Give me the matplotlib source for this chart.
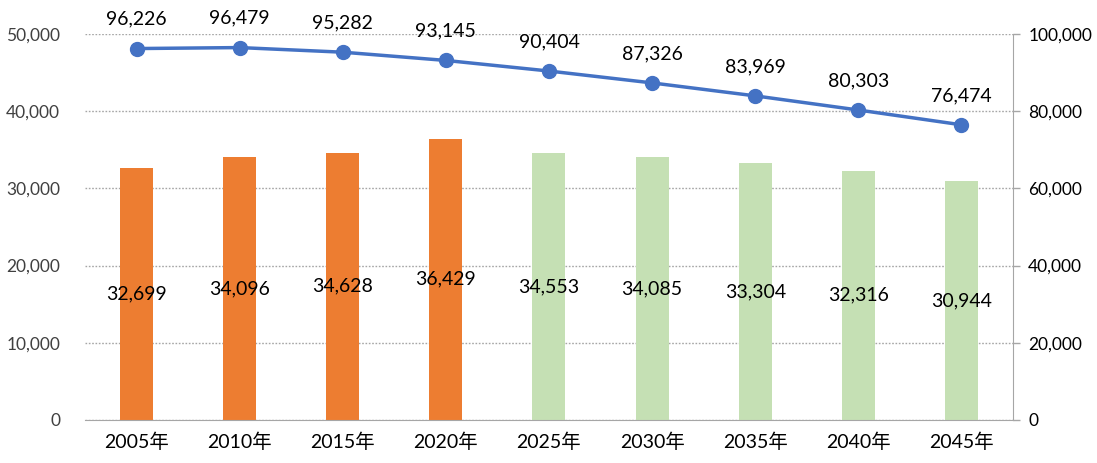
import matplotlib
matplotlib.use('Agg')
import matplotlib.pyplot as plt
import numpy as np
from matplotlib.ticker import FuncFormatter

plt.rcParams['font.family'] = ['Lato', 'Noto Sans CJK JP', 'DejaVu Sans']

# データ
years = ['2005年', '2010年', '2015年', '2020年', '2025年', '2030年', '2035年', '2040年', '2045年']
bar_values = [32699, 34096, 34628, 36429, 34553, 34085, 33304, 32316, 30944]
line_values = [96226, 96479, 95282, 93145, 90404, 87326, 83969, 80303, 76474]
bar_colors = ['#ED7D31'] * 4 + ['#C5E0B4'] * 5

fig = plt.figure(figsize=(10.97, 4.63), dpi=100)
ax = fig.add_axes([0.0775, 0.0929, 0.8459, 0.8337])
ax2 = ax.twinx()

x = np.arange(len(years))
ax.bar(x, bar_values, width=0.32, color=bar_colors, zorder=2)
for i, v in enumerate(bar_values):
    ax.text(i, v / 2, f'{v:,}', ha='center', va='center', fontsize=14, color='#000000', zorder=3)

ax2.plot(x, line_values, color='#4472C4', linewidth=2.5, marker='o', markersize=10, zorder=4)
for i, v in enumerate(line_values):
    ax2.annotate(f'{v:,}', (i, v), xytext=(0, 15), textcoords='offset points',
                 ha='center', va='bottom', fontsize=14, color='#000000')

ax.set_xlim(-0.5, len(years) - 0.5)
ax.set_ylim(0, 50000)
ax2.set_ylim(0, 100000)
ax.set_yticks(np.arange(0, 50001, 10000))
ax2.set_yticks(np.arange(0, 100001, 20000))
fmt = FuncFormatter(lambda v, p: f'{int(v):,}')
ax.yaxis.set_major_formatter(fmt)
ax2.yaxis.set_major_formatter(fmt)

ax.set_xticks(x)
ax.set_xticklabels(years, fontsize=14)
ax.tick_params(axis='x', length=0, pad=9, colors='#000000')
ax.tick_params(axis='y', length=0, pad=18, labelsize=12.5, colors='#404040')
ax2.tick_params(axis='y', length=5, width=1, color='#A6A6A6', pad=6, labelsize=12.5, labelcolor='#000000')

ax.grid(axis='y', linestyle=(0, (1.2, 1.2)), color='#A6A6A6', linewidth=1, zorder=0)
ax.set_axisbelow(True)

for a in (ax, ax2):
    for s in a.spines.values():
        s.set_visible(False)
ax.spines['bottom'].set_visible(True)
ax.spines['bottom'].set_color('#A6A6A6')
ax2.spines['right'].set_visible(True)
ax2.spines['right'].set_color('#A6A6A6')

fig.savefig('out.png', dpi=100)
